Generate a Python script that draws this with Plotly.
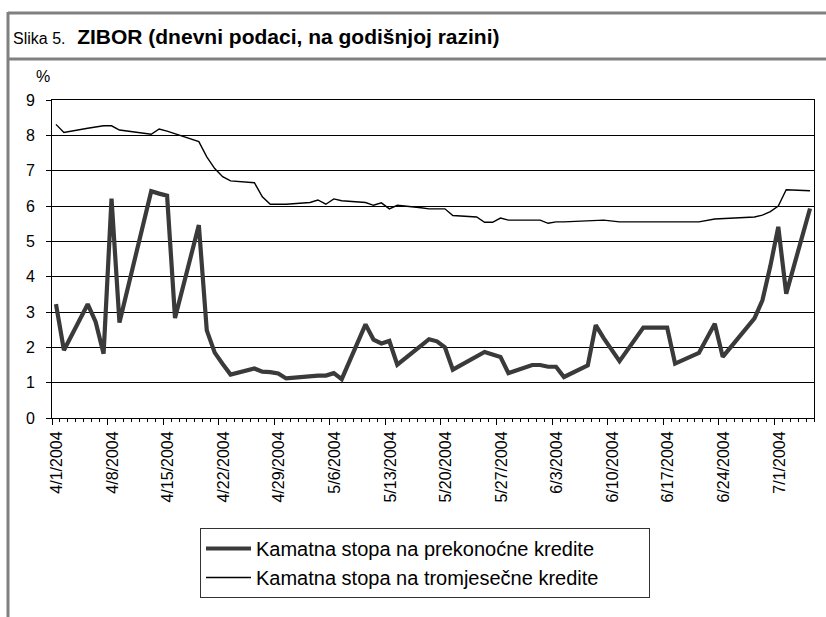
import plotly.graph_objects as go

dates = [
    "2004-04-01", "2004-04-02", "2004-04-05", "2004-04-06", "2004-04-07", "2004-04-08", "2004-04-09",
    "2004-04-13", "2004-04-14", "2004-04-15", "2004-04-16", "2004-04-19", "2004-04-20", "2004-04-21",
    "2004-04-22", "2004-04-23", "2004-04-26", "2004-04-27", "2004-04-28", "2004-04-29", "2004-04-30",
    "2004-05-03", "2004-05-04", "2004-05-05", "2004-05-06", "2004-05-07", "2004-05-10", "2004-05-11",
    "2004-05-12", "2004-05-13", "2004-05-14", "2004-05-17", "2004-05-18", "2004-05-19", "2004-05-20",
    "2004-05-21", "2004-05-24", "2004-05-25", "2004-05-26", "2004-05-27", "2004-05-28", "2004-05-31",
    "2004-06-01", "2004-06-02", "2004-06-03", "2004-06-04", "2004-06-07", "2004-06-08", "2004-06-09",
    "2004-06-11", "2004-06-14", "2004-06-15", "2004-06-16", "2004-06-17", "2004-06-18", "2004-06-21",
    "2004-06-23", "2004-06-24", "2004-06-28", "2004-06-29", "2004-06-30", "2004-07-01", "2004-07-02",
    "2004-07-05",
]

overnight = [
    3.22, 1.92, 3.22, 2.72, 1.82, 6.21, 2.70,
    6.42, 6.35, 6.29, 2.83, 5.46, 2.48, 1.85,
    1.53, 1.23, 1.40, 1.31, 1.30, 1.26, 1.12,
    1.20, 1.20, 1.20, 1.27, 1.10, 2.65, 2.22,
    2.11, 2.18, 1.51, 2.05, 2.23, 2.17, 2.00,
    1.37, 1.76, 1.87, 1.80, 1.73, 1.27, 1.50,
    1.50, 1.45, 1.45, 1.16, 1.49, 2.63, 2.26,
    1.61, 2.56, 2.56, 2.56, 2.56, 1.54, 1.84,
    2.67, 1.73, 2.82, 3.33, 4.30, 5.41, 3.52,
    5.93,
]

three_month = [
    8.31, 8.08, 8.20, 8.24, 8.27, 8.27, 8.15,
    8.03, 8.18, 8.12, 8.05, 7.82, 7.39, 7.06,
    6.83, 6.71, 6.66, 6.26, 6.05, 6.05, 6.05,
    6.10, 6.17, 6.05, 6.20, 6.15, 6.10, 6.02,
    6.09, 5.92, 6.02, 5.95, 5.92, 5.92, 5.92,
    5.73, 5.69, 5.54, 5.54, 5.66, 5.60, 5.60,
    5.60, 5.51, 5.55, 5.55, 5.58, 5.60, 5.60,
    5.55, 5.55, 5.55, 5.55, 5.55, 5.55, 5.55,
    5.63, 5.64, 5.69, 5.74, 5.84, 6.00, 6.46,
    6.43,
]

y_ticks = [0, 1, 2, 3, 4, 5, 6, 7, 8, 9]
series_names = ["Kamatna stopa na prekonoćne kredite", "Kamatna stopa na tromjesečne kredite"]
title_prefix = "Slika 5."
title_main = "ZIBOR (dnevni podaci, na godišnjoj razini)"
y_unit = "%"

x_noon = [d + " 12:00" for d in dates]

W, H = 826, 617
L, R, T, B = 52, 12, 100, 199
PW, PH = W - L - R, H - T - B


def fx(px):
    return (px - L) / PW


def fy(py):
    return (H - B - py) / PH


FONT = "Liberation Sans, Arial, sans-serif"

fig = go.Figure()
fig.add_trace(go.Scatter(
    x=x_noon, y=overnight, mode="lines", name=series_names[0],
    line=dict(color="#3a3a3a", width=4.2),
))
fig.add_trace(go.Scatter(
    x=x_noon, y=three_month, mode="lines", name=series_names[1],
    line=dict(color="#000000", width=1.4),
))

day_ms = 86400000
fig.update_xaxes(
    type="date",
    range=["2004-04-01", "2004-07-06"],
    tick0="2004-04-01", dtick=7 * day_ms,
    tickformat="%-m/%-d/%Y", tickangle=-90,
    ticks="outside", ticklen=6, tickcolor="black",
    minor=dict(dtick=day_ms, tick0="2004-04-01", ticks="outside", ticklen=3, tickcolor="black"),
    showline=True, linecolor="black", linewidth=1, mirror=True,
    showgrid=False, zeroline=False,
    tickfont=dict(family=FONT, size=16, color="black"),
    ticklabelshift=5,
)
fig.update_yaxes(
    range=[0, 9], tickvals=y_ticks, ticktext=[str(v) for v in y_ticks],
    ticks="outside", ticklen=5, tickcolor="black",
    showline=True, linecolor="black", linewidth=1, mirror=True,
    showgrid=True, gridcolor="black", gridwidth=1, zeroline=False,
    tickfont=dict(family=FONT, size=16, color="black"),
    ticklabelstandoff=8,
)

gray = "#808080"
shapes = [
    dict(type="line", xref="paper", yref="paper", x0=fx(8), x1=fx(830), y0=fy(13), y1=fy(13),
         line=dict(color=gray, width=3)),
    dict(type="line", xref="paper", yref="paper", x0=fx(8), x1=fx(830), y0=fy(59), y1=fy(59),
         line=dict(color=gray, width=3)),
    dict(type="line", xref="paper", yref="paper", x0=fx(8), x1=fx(8), y0=fy(12), y1=fy(620),
         line=dict(color=gray, width=3)),
]

annotations = [
    dict(xref="paper", yref="paper", x=fx(11), y=fy(37), xanchor="left", yanchor="middle",
         showarrow=False,
         text=f"<span style='font-size:16px'>{title_prefix}</span>  <b>{title_main}</b>",
         font=dict(family=FONT, size=21, color="black")),
    dict(xref="paper", yref="paper", x=fx(43), y=fy(77), xanchor="center", yanchor="middle",
         showarrow=False, text=y_unit, font=dict(family=FONT, size=16, color="black")),
]

fig.update_layout(
    width=W, height=H,
    margin=dict(l=L, r=R, t=T, b=B, autoexpand=False),
    paper_bgcolor="white", plot_bgcolor="white",
    shapes=shapes, annotations=annotations,
    showlegend=True,
    legend=dict(
        orientation="h",
        x=fx(200), y=fy(528), xanchor="left", yanchor="top",
        bgcolor="white", bordercolor="#333333", borderwidth=1,
        font=dict(family=FONT, size=20, color="black"),
        itemwidth=45, entrywidth=388, entrywidthmode="pixels",
        traceorder="normal",
    ),
)

fig.write_html(
    "out.html",
    config={"displayModeBar": False},
    post_script="document.body.style.margin='0';document.body.style.padding='0';",
)
